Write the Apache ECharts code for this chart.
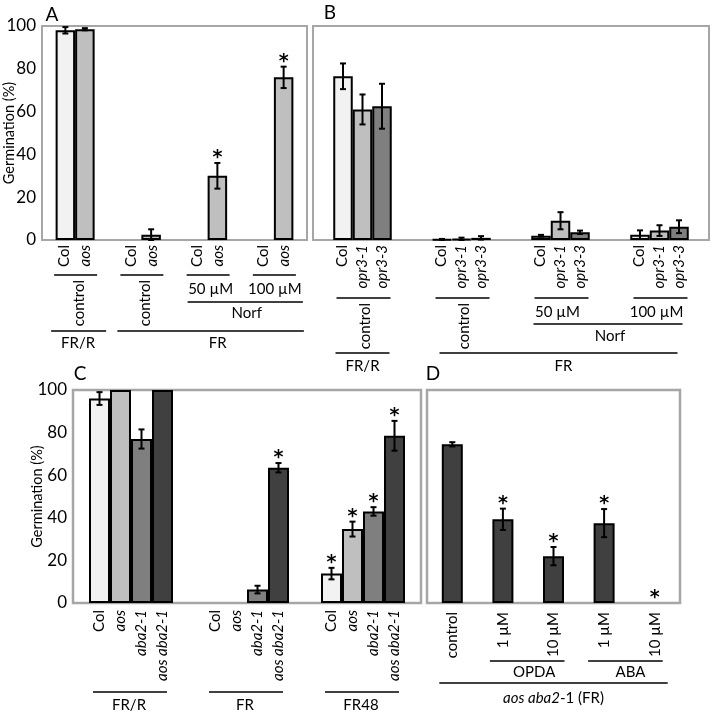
<!DOCTYPE html>
<html><head><meta charset="utf-8">
<script src="https://cdn.jsdelivr.net/npm/echarts@6/dist/echarts.min.js"></script>
<style>html,body{margin:0;padding:0;background:#fff}#c{width:712px;height:714px}</style>
</head><body><div id="c"></div>
<script>
// ---------------- DATA ----------------
const yTicks = [0, 20, 40, 60, 80, 100];

// Panel A
const aGroups = ['FR/R control', 'FR control', 'FR Norf 50 µM', 'FR Norf 100 µM'];
const aGenotypes = ['Col', 'aos'];
const aColVals = [98, 0, 0, 0];
const aColErr  = [1.5, 0, 0, 0];
const aColSig  = [0, 0, 0, 0];
const aAosVals = [98.5, 2.5, 30, 76];
const aAosErr  = [0.5, 2.5, 6, 5];
const aAosSig  = [0, 0, 1, 1];
const aSubLabels = ['control', 'control', '50 µM', '100 µM'];
const aDrugLabel = 'Norf';
const aLightLabels = ['FR/R', 'FR'];

// Panel B
const bGroups = ['FR/R control', 'FR control', 'FR Norf 50 µM', 'FR Norf 100 µM'];
const bGenotypes = ['Col', 'opr3-1', 'opr3-3'];
const bColVals   = [76.5, 0.3, 2, 2.5];
const bColErr    = [6, 0.2, 0.4, 2];
const bOpr31Vals = [61, 0.5, 9, 4.4];
const bOpr31Err  = [7, 0.6, 4, 2.5];
const bOpr33Vals = [62.5, 1, 3.6, 6.2];
const bOpr33Err  = [10.5, 0.8, 0.8, 3];
const bNoSig     = [0, 0, 0, 0];
const bSubLabels = ['control', 'control', '50 µM', '100 µM'];
const bDrugLabel = 'Norf';
const bLightLabels = ['FR/R', 'FR'];

// Panel C
const cGroups = ['FR/R', 'FR', 'FR48'];
const cGenotypes = ['Col', 'aos', 'aba2-1', 'aos aba2-1'];
const cColVals    = [96, 0, 13.8];
const cColErr     = [3, 0, 2.7];
const cColSig     = [0, 0, 1];
const cAosVals    = [100, 0, 34.7];
const cAosErr     = [0, 0, 3.5];
const cAosSig     = [0, 0, 1];
const cAbaVals    = [77, 6.3, 43];
const cAbaErr     = [4.5, 1.8, 2];
const cAbaSig     = [0, 0, 1];
const cAosAbaVals = [100, 63.5, 78.5];
const cAosAbaErr  = [0, 2.2, 7];
const cAosAbaSig  = [0, 1, 1];

// Panel D
const dCats = ['control', '1 µM', '10 µM', '1 µM', '10 µM'];
const dVals = [74.5, 39.3, 22, 37.5, 0];
const dErr  = [1, 5, 4.3, 6.6, 0];
const dSig  = [0, 1, 1, 1, 1];
const dDrugLabels = ['OPDA', 'ABA'];
const dBottomLabel = '{i|aos aba2}-1 (FR)';

const yName = 'Germination (%)';
const panelLetters = ['A', 'B', 'C', 'D'];

// ---------------- STYLE ----------------
const FONT = 'Lato, "Open Sans", "DejaVu Sans", sans-serif';
const GRAY = '#a6a6a6';
const C1 = '#f2f2f2', C2 = '#bfbfbf', C3 = '#7f7f7f', C4 = '#404040';

const chart = echarts.init(document.getElementById('c'), null, {renderer: 'canvas'});

function errSeries(xi, vals, errs, sigs, k, n, bw) {
  return {
    type: 'custom', xAxisIndex: xi, yAxisIndex: xi, z: 10, silent: true, animation: false,
    data: vals.map((v, i) => [i, v, errs[i], sigs[i]]),
    renderItem(params, api) {
      const c = api.value(0), v = api.value(1), e = api.value(2), s = api.value(3);
      const off = (k - (n - 1) / 2) * bw;
      const x = api.coord([c, v])[0] + off;
      const yTop = api.coord([c, v + e])[1];
      const yBot = api.coord([c, Math.max(0, v - e)])[1];
      const ch = [];
      const st = {stroke: '#000', lineWidth: 2};
      if (e > 0) {
        ch.push({type: 'line', shape: {x1: x, y1: yTop, x2: x, y2: yBot}, style: st});
        ch.push({type: 'line', shape: {x1: x - 3, y1: yTop, x2: x + 3, y2: yTop}, style: st});
        ch.push({type: 'line', shape: {x1: x - 3, y1: yBot, x2: x + 3, y2: yBot}, style: st});
      }
      if (s) {
        ch.push({type: 'text', x: x, y: yTop - 5, style: {text: '*', fill: '#000', fontSize: 19, fontWeight: 'bold',
          fontFamily: '"DejaVu Sans", sans-serif', align: 'center', verticalAlign: 'middle'}});
      }
      return {type: 'group', children: ch};
    }
  };
}

function barSeries(xi, valsList, errList, sigList, colors, bw) {
  const out = [];
  const n = valsList.length;
  valsList.forEach((vals, k) => {
    out.push({
      type: 'bar', xAxisIndex: xi, yAxisIndex: xi, barWidth: bw, barGap: '0%', silent: true, animation: false,
      itemStyle: {color: colors[k], borderColor: '#000', borderWidth: 2},
      data: vals.map(v => v === 0 ? {value: v, itemStyle: {borderWidth: 0}} : {value: v})
    });
    out.push(errSeries(xi, vals, errList[k], sigList[k], k, n, bw));
  });
  return out;
}

function richGenos(genos) {
  return genos.map(g => (g === 'Col' ? '{n|' : '{i|') + g + '}').join('\n');
}
function xAxisGroups(gi, cats, genos, lh, margin) {
  return {
    type: 'category', gridIndex: gi, data: cats,
    axisLine: {show: false}, axisTick: {show: false}, splitLine: {show: false},
    axisLabel: {
      interval: 0, rotate: 90, margin: margin,
      formatter: () => richGenos(genos),
      rich: {
        n: {fontFamily: FONT, fontSize: 15, lineHeight: lh, color: '#000'},
        i: {fontFamily: FONT, fontSize: 15, lineHeight: lh, fontStyle: 'italic', color: '#000'}
      }
    }
  };
}
function yAxisCfg(gi, showLabels, nameGap) {
  return {
    type: 'value', gridIndex: gi, min: 0, max: 100, interval: 20,
    axisLine: {show: false}, axisTick: {show: false}, splitLine: {show: false},
    axisLabel: {show: showLabels, fontFamily: FONT, fontSize: 17, color: '#000', margin: 6,
      formatter: v => yTicks.indexOf(v) >= 0 ? String(v) : ''},
    name: showLabels ? yName : '', nameLocation: 'middle', nameGap: nameGap, nameMoveOverlap: false,
    nameTextStyle: {fontFamily: FONT, fontSize: 14.5, color: '#000'}
  };
}
function gridCfg(left, top, width, height, bw) {
  return {left, top, width, height, show: true, borderColor: GRAY, borderWidth: bw,
    backgroundColor: 'transparent', containLabel: false, outerBoundsMode: 'none'};
}

const series = [].concat(
  barSeries(0, [aColVals, aAosVals], [aColErr, aAosErr], [aColSig, aAosSig], [C1, C2], 19.5),
  barSeries(1, [bColVals, bOpr31Vals, bOpr33Vals], [bColErr, bOpr31Err, bOpr33Err], [bNoSig, bNoSig, bNoSig], [C1, C2, C3], 19.5),
  barSeries(2, [cColVals, cAosVals, cAbaVals, cAosAbaVals], [cColErr, cAosErr, cAbaErr, cAosAbaErr], [cColSig, cAosSig, cAbaSig, cAosAbaSig], [C1, C2, C3, C4], 21),
  barSeries(3, [dVals], [dErr], [dSig], [C4], 21)
);

chart.setOption({
  animation: false,
  backgroundColor: '#fff',
  textStyle: {fontFamily: FONT},
  grid: [
    gridCfg(42, 26, 265, 214, 2),
    gridCfg(313, 26, 396, 214, 2),
    gridCfg(73, 390, 348, 213, 2.5),
    gridCfg(427, 390, 253, 213, 2.5)
  ],
  xAxis: [
    xAxisGroups(0, aGroups, aGenotypes, 21, 5),
    xAxisGroups(1, bGroups, bGenotypes, 20, 5),
    xAxisGroups(2, cGroups, cGenotypes, 21, 7),
    {type: 'category', gridIndex: 3, data: dCats,
      axisLine: {show: false}, axisTick: {show: false}, splitLine: {show: false},
      axisLabel: {interval: 0, rotate: 90, margin: 9, fontFamily: FONT, fontSize: 15, color: '#000'}}
  ],
  yAxis: [yAxisCfg(0, true, 25), yAxisCfg(1, false, 0), yAxisCfg(2, true, 28), yAxisCfg(3, false, 0)],
  series: series
});

// ---------------- ANNOTATIONS ----------------
const G = [];
const LW = 1.6;
function hline(x1, x2, y) {
  G.push({type: 'line', silent: true, shape: {x1: x1, y1: y, x2: x2, y2: y}, style: {stroke: '#000', lineWidth: LW}});
}
function txt(s, x, y, size, rich) {
  G.push({type: 'text', silent: true, x: x, y: y, style: {text: s, fill: '#000', fontFamily: FONT, fontSize: size || 15,
    align: 'center', verticalAlign: 'middle', rich: rich}});
}
function vtxt(s, x, y) {
  G.push({type: 'text', silent: true, x: x, y: y, rotation: Math.PI / 2,
    style: {text: s, fill: '#000', fontFamily: FONT, fontSize: 15, align: 'right', verticalAlign: 'middle'}});
}
const cx = (xi, i) => chart.convertToPixel({xAxisIndex: xi}, i);

// Panel A
(function () {
  const c = i => cx(0, i);
  for (let i = 0; i < 4; i++) hline(c(i) - 21, c(i) + 22, 275);
  vtxt(aSubLabels[0], c(0) + 4, 280);
  vtxt(aSubLabels[1], c(1) + 4, 280);
  txt(aSubLabels[2], c(2) + 3, 289);
  txt(aSubLabels[3], c(3) + 1, 289);
  hline(c(2) - 20, c(3) + 29, 302);
  txt(aDrugLabel, (c(2) + c(3)) / 2 + 6, 313);
  hline(c(0) - 24, c(0) + 31, 331);
  txt(aLightLabels[0], c(0) + 3, 343);
  hline(c(1) - 24, c(3) + 30, 331);
  txt(aLightLabels[1], (c(1) + c(3)) / 2 + 10, 343);
})();
// Panel B
(function () {
  const c = i => cx(1, i);
  for (let i = 0; i < 4; i++) hline(c(i) - 26, c(i) + 28, 298);
  vtxt(bSubLabels[0], c(0) + 3, 303);
  vtxt(bSubLabels[1], c(1) + 3, 303);
  txt(bSubLabels[2], c(2) - 3, 312);
  txt(bSubLabels[3], c(3) - 3, 312);
  hline(c(2) - 27, c(3) + 23, 324);
  txt(bDrugLabel, (c(2) + c(3)) / 2, 336);
  hline(c(0) - 27, c(0) + 27, 353);
  txt(bLightLabels[0], c(0), 366);
  hline(c(1) - 22, c(3) + 18, 353);
  txt(bLightLabels[1], (c(1) + c(3)) / 2 + 3, 366);
})();
// Panel C
(function () {
  const c = i => cx(2, i);
  for (let i = 0; i < 3; i++) {
    hline(c(i) - 38, c(i) + 36, 692);
    txt(cGroups[i], c(i) - 2, 705);
  }
})();
// Panel D
(function () {
  const c = i => cx(3, i);
  hline(c(1) - 13, c(2) + 11, 661);
  txt(dDrugLabels[0], (c(1) + c(2)) / 2 + 6, 672);
  hline(c(3) - 16, c(4) + 8, 661);
  txt(dDrugLabels[1], (c(3) + c(4)) / 2 + 1, 672);
  hline(c(0) - 13, c(4) + 13, 683);
  txt(dBottomLabel, (c(0) + c(4)) / 2, 698, 15,
    {i: {fontFamily: FONT, fontSize: 15, fontStyle: 'italic', fill: '#000', color: '#000'}});
})();
// Panel letters
txt(panelLetters[0], 52, 15, 19);
txt(panelLetters[1], 330, 13, 19);
txt(panelLetters[2], 80, 374, 19);
txt(panelLetters[3], 433, 374, 19);

chart.setOption({graphic: G});
</script>
</body></html>
